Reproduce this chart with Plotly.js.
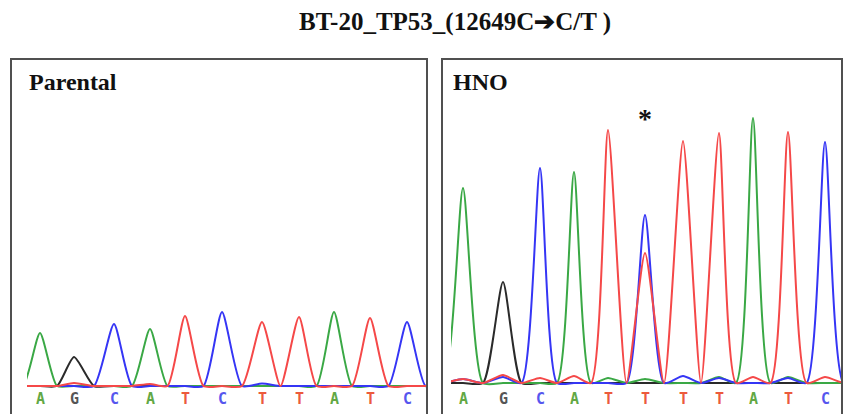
<!DOCTYPE html>
<html><head><meta charset="utf-8">
<script src="https://cdn.plot.ly/plotly-3.0.1.min.js"></script>
<style>html,body{margin:0;padding:0;background:#fff;}#chart{width:843px;height:414px;}</style>
</head><body><div id="chart"></div>
<script>
// ---- data ----
const chartTitle = "BT-20_TP53_(12649C\u2794C/T )";
const panelNames = ["Parental", "HNO"];
const parentalBases = ["A","G","C","A","T","C","T","T","A","T","C"];
const hnoBases      = ["A","G","C","A","T","T","T","T","A","T","C"];
const parentalScan  = [40, 74, 114, 150, 185, 222, 262, 299, 334, 370, 407];
const hnoScan       = [463, 503, 540, 574, 608, 645, 683, 719, 753, 788, 825];
// signal heights (RFU) of each dye channel at each base position
const parentalA = [530, 0, 0, 570, 0, 0, 0, 0, 740, 0, 0];
const parentalC = [0, 0, 620, 0, 0, 740, 25, 0, 0, 0, 640];
const parentalG = [0, 290, 0, 0, 0, 0, 0, 0, 0, 0, 0];
const parentalT = [0, 30, 0, 20, 700, 0, 640, 690, 0, 680, 0];
const hnoA = [1950, 0, 0, 2110, 50, 40, 0, 60, 2650, 60, 0];
const hnoC = [40, 60, 2150, 0, 0, 1680, 70, 50, 0, 50, 2410];
const hnoG = [0, 1010, 0, 0, 0, 0, 0, 0, 0, 0, 0];
const hnoT = [40, 80, 50, 70, 2530, 1300, 2420, 2500, 60, 2510, 60];
const mutationIndex = 5;

// ---- styling ----
const W = 843, H = 414;
const dyeColors = {A: "#3aa845", C: "#3535f5", G: "#2a2a2a", T: "#f54848"};
const letterColors = {A: "#62a844", C: "#5656ee", G: "#555555", T: "#ec5a3c"};
const serif = "Liberation Serif, Times New Roman, serif";

function channelTrace(scan, heights, color, xa, ya) {
  const xs = [], ys = [];
  const n = scan.length;
  const g0 = scan[1] - scan[0], g1 = scan[n-1] - scan[n-2];
  xs.push(scan[0] - g0); ys.push(0);
  for (let i = 0; i < n; i++) {
    const foot = i === 0 ? scan[0] - g0 / 2 : (scan[i-1] + scan[i]) / 2;
    xs.push(foot); ys.push(0);
    xs.push(scan[i]); ys.push(heights[i]);
  }
  xs.push(scan[n-1] + g1 / 2); ys.push(0);
  xs.push(scan[n-1] + g1); ys.push(0);
  return {x: xs, y: ys, xaxis: xa, yaxis: ya, type: "scatter", mode: "lines",
          line: {color: color, width: 2, shape: "spline", smoothing: 0.6},
          hoverinfo: "skip", showlegend: false};
}

const traces = [
  channelTrace(parentalScan, parentalG, dyeColors.G, "x", "y"),
  channelTrace(parentalScan, parentalA, dyeColors.A, "x", "y"),
  channelTrace(parentalScan, parentalC, dyeColors.C, "x", "y"),
  channelTrace(parentalScan, parentalT, dyeColors.T, "x", "y"),
  channelTrace(hnoScan, hnoG, dyeColors.G, "x2", "y2"),
  channelTrace(hnoScan, hnoA, dyeColors.A, "x2", "y2"),
  channelTrace(hnoScan, hnoC, dyeColors.C, "x2", "y2"),
  channelTrace(hnoScan, hnoT, dyeColors.T, "x2", "y2")
];

const px = v => v / W, py = v => 1 - v / H;
const annotations = [
  {text: "<b>" + chartTitle + "</b>", xref: "paper", yref: "paper", x: px(455), y: py(22),
   xanchor: "center", yanchor: "middle", showarrow: false, font: {family: serif, size: 25, color: "#111"}},
  {text: "<b>" + panelNames[0] + "</b>", xref: "paper", yref: "paper", x: px(27), y: py(82),
   xanchor: "left", yanchor: "middle", showarrow: false, font: {family: serif, size: 24, color: "#111"}},
  {text: "<b>" + panelNames[1] + "</b>", xref: "paper", yref: "paper", x: px(451), y: py(82),
   xanchor: "left", yanchor: "middle", showarrow: false, font: {family: serif, size: 24, color: "#111"}},
  {text: "<b>*</b>", xref: "x2", yref: "paper", x: hnoScan[mutationIndex], y: py(119),
   xanchor: "center", yanchor: "middle", showarrow: false, font: {family: serif, size: 28, color: "#111"}}
];
function addLetters(bases, scan, xa, ypix) {
  bases.forEach((b, i) => annotations.push({
    text: "<b>" + b + "</b>", xref: xa, yref: "paper", x: scan[i], y: py(ypix), xanchor: "center", yanchor: "middle",
    showarrow: false, font: {family: "DejaVu Sans Mono, monospace", size: 15, color: letterColors[b]}
  }));
}
addLetters(parentalBases, parentalScan, "x", 399);
addLetters(hnoBases, hnoScan, "x2", 399);

const boxLine = {color: "#505050", width: 2};
const layout = {
  width: W, height: H, margin: {l: 0, r: 0, t: 0, b: 0},
  paper_bgcolor: "#fff", plot_bgcolor: "rgba(0,0,0,0)", showlegend: false,
  xaxis:  {domain: [px(27), px(426)], range: [27, 426], visible: false, fixedrange: true},
  yaxis:  {domain: [py(390), py(60)], range: [-40, 3260], visible: false, fixedrange: true},
  xaxis2: {domain: [px(451), px(841)], range: [451, 841], visible: false, fixedrange: true},
  yaxis2: {domain: [py(387), py(60)], range: [-40, 3230], visible: false, fixedrange: true},
  annotations: annotations,
  shapes: [
    {type: "rect", xref: "paper", yref: "paper", x0: px(11), x1: px(427), y0: -0.2, y1: py(59), line: boxLine},
    {type: "rect", xref: "paper", yref: "paper", x0: px(442), x1: px(842), y0: -0.2, y1: py(59), line: boxLine}
  ]
};
Plotly.newPlot("chart", traces, layout, {staticPlot: true, displayModeBar: false});
</script></body></html>
